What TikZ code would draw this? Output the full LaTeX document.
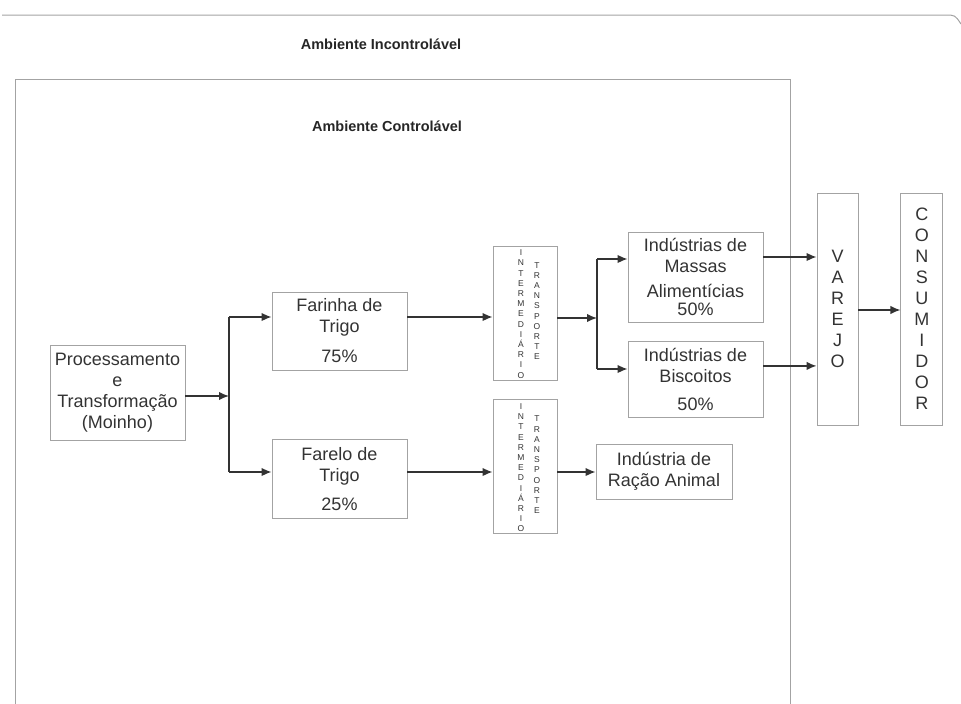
\documentclass[tikz,border=0pt]{standalone}
\usepackage{fontspec}
\setmainfont{Liberation Sans}
\usetikzlibrary{arrows.meta,positioning,calc}
\definecolor{boxgray}{HTML}{A3A3A3}
\definecolor{inkgray}{HTML}{333333}
\newcommand{\intermed}{I\\N\\T\\E\\R\\M\\E\\D\\I\\Á\\R\\I\\O}
\newcommand{\transp}{T\\R\\A\\N\\S\\P\\O\\R\\T\\E}

\begin{document}
\begin{tikzpicture}[x=1pt,y=-1pt,
	bloco/.style={draw=boxgray, line width=0.9pt, inner sep=0pt, align=center,
		text=inkgray, font=\fontsize{18}{21}\selectfont},
	letras/.style={align=center, inner sep=0pt, text=inkgray, font=\fontsize{8.5}{10.2}\selectfont},
	seta/.style={draw=inkgray, line width=1.4pt, -{Latex[length=10pt,width=8.5pt]}},
	linha/.style={draw=inkgray, line width=1.4pt},
	moldura/.style={draw=boxgray, line width=1pt},
	titulo/.style={font=\bfseries\fontsize{14.5}{16}\selectfont, text=black!85}]
	\useasboundingbox (0,0) rectangle (961,704);
	
	% ambientes
	\draw[moldura] (2,15) -- (945,15) .. controls (955,15) .. (961,24);
	\draw[moldura] (15,704) -- (15,79) -- (790,79) -- (790,704);
	\node[titulo] (incontrol) at (381,44) {Ambiente Incontrolável};
	\node[titulo] (control) at (387,126) {Ambiente Controlável};
	
	% blocos
	\node[bloco, minimum width=135pt, minimum height=95pt] (proc) at (117.5,392.5)
		{Processamento\\e\\Transformação\\(Moinho)};
	\node[bloco, minimum width=135pt, minimum height=78pt] (farinha) at (339.5,331)
		{Farinha de\\Trigo\\[9pt]75\%};
	\node[bloco, minimum width=135pt, minimum height=79pt, below=69pt of farinha] (farelo)
		{Farelo de\\Trigo\\[8pt]25\%};
	
	\node[bloco, minimum width=64pt, minimum height=134pt] (inter1) at (525,313) {};
	\node[bloco, minimum width=64pt, minimum height=134pt, below=19pt of inter1] (inter2) {};
	\node[letras] (i1a) at ($(inter1.center)+(-4,1)$) {\intermed};
	\node[letras] (i1b) at ($(inter1.center)+(12,-2)$) {\transp};
	\node[letras] (i2a) at ($(inter2.center)+(-4,1)$) {\intermed};
	\node[letras] (i2b) at ($(inter2.center)+(12,-2)$) {\transp};
	
	\node[bloco, minimum width=135pt, minimum height=90pt] (massas) at (695.5,277)
		{Indústrias de\\Massas\\[4pt]Alimentícias\\[-3pt]50\%};
	\node[bloco, minimum width=135pt, minimum height=76pt, below=19pt of massas] (biscoitos)
		{Indústrias de\\Biscoitos\\[7pt]50\%};
	\node[bloco, minimum width=136pt, minimum height=55pt] (racao) at (664,471.5)
		{Indústria de\\Ração Animal};
	
	\node[bloco, minimum width=41pt, minimum height=232pt] (varejo) at (837.5,309)
		{V\\A\\R\\E\\J\\O};
	\node[bloco, minimum width=42pt, minimum height=232pt, right=42pt of varejo] (consumidor)
		{C\\O\\N\\S\\U\\M\\I\\D\\O\\R};
	
	% bifurcacoes
	\coordinate (fork1) at (229,396);
	\coordinate (fork1t) at (229,317);
	\coordinate (fork1b) at (229,472);
	\coordinate (fork2) at (597,318);
	\coordinate (fork2t) at (597,259);
	\coordinate (fork2b) at (597,369);
	
	% setas
	\draw[seta] (proc.east |- fork1) -- (fork1);
	\draw[linha] (fork1t) -- (fork1b);
	\draw[seta] (fork1t) -- (fork1t -| farinha.west);
	\draw[seta] (fork1b) -- (fork1b -| farelo.west);
	\draw[seta] (farinha.east |- fork1t) -- (inter1.west |- fork1t);
	\draw[seta] (farelo.east |- fork1b) -- (inter2.west |- fork1b);
	\draw[seta] (inter1.east |- fork2) -- (fork2);
	\draw[linha] (fork2t) -- (fork2b);
	\draw[seta] (fork2t) -- (fork2t -| massas.west);
	\draw[seta] (fork2b) -- (fork2b -| biscoitos.west);
	\draw[seta] (inter2.east |- fork1b) -- (racao.west |- fork1b);
	\draw[seta] ([yshift=20pt]massas.east) -- ([yshift=20pt]massas.east -| varejo.west);
	\draw[seta] ([yshift=14pt]biscoitos.east) -- ([yshift=14pt]biscoitos.east -| varejo.west);
	\draw[seta] ([yshift=-1pt]varejo.east) -- ([yshift=-1pt]consumidor.west);
\end{tikzpicture}
\end{document}
